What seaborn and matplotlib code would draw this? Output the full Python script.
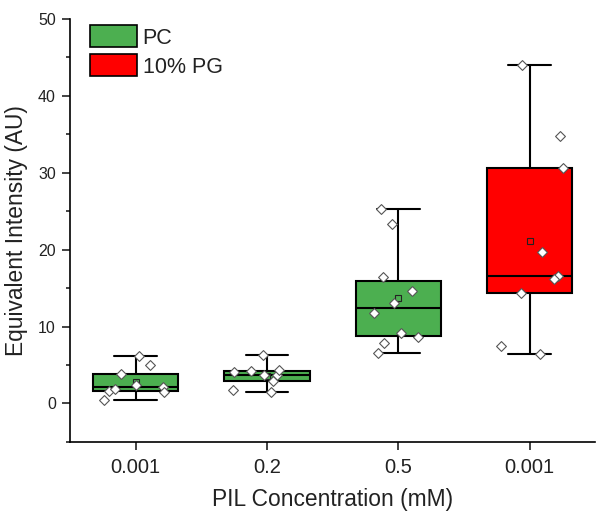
import numpy as np
import pandas as pd
import matplotlib
matplotlib.use("Agg")
import matplotlib.pyplot as plt
import seaborn as sns
from matplotlib.patches import Patch
from matplotlib.ticker import MultipleLocator

# data
group_ids = ["g1", "g2", "g3", "g4"]
tick_labels = ["0.001", "0.2", "0.5", "0.001"]
lipids = ["PC", "PC", "PC", "10% PG"]
vals_g1 = [6.2, 5.0, 3.8, 2.35, 2.1, 1.45, 1.6, 1.85, 0.5]
vals_g2 = [6.26, 4.1, 3.65, 3.75, 4.2, 4.3, 2.9, 1.8, 1.5]
vals_g3 = [25.25, 23.3, 16.4, 14.6, 13.1, 11.7, 9.2, 8.65, 7.8, 6.5]
vals_g4 = [44.07, 34.8, 30.6, 19.65, 16.6, 16.2, 14.4, 7.43, 6.4]

green = "#4CAF50"
red = "#FF0000"
palette = {"PC": green, "10% PG": red}

rows = []
for gid, lip, vals in zip(group_ids, lipids, [vals_g1, vals_g2, vals_g3, vals_g4]):
    for v in vals:
        rows.append({"group": gid, "lipid": lip, "value": v})
df = pd.DataFrame(rows)

sns.set_style("ticks")
plt.rcParams["font.family"] = ["Liberation Sans", "DejaVu Sans"]
plt.rcParams["text.color"] = "#222222"
plt.rcParams["axes.labelcolor"] = "#222222"
plt.rcParams["xtick.color"] = "#222222"
plt.rcParams["ytick.color"] = "#222222"

fig = plt.figure(figsize=(5.97, 5.15), dpi=100)
ax = fig.add_axes([0.117, 0.142, 0.88, 0.821])

sns.boxplot(data=df, x="group", y="value", hue="lipid", palette=palette,
            order=group_ids, hue_order=["PC", "10% PG"], dodge=False,
            saturation=1, width=0.65, whis=(0, 100), showfliers=False,
            showmeans=True, linecolor="black", linewidth=1.5, legend=False,
            ax=ax,
            meanprops=dict(marker="s", markerfacecolor="none",
                           markeredgecolor="#222222", markersize=5,
                           markeredgewidth=0.8))

np.random.seed(3)
sns.stripplot(data=df, x="group", y="value", order=group_ids, color="white",
              marker="D", size=5, edgecolor="#555555", linewidth=0.8,
              jitter=0.27, ax=ax, zorder=5)

ax.set_xlim(-0.5, 3.5)
ax.set_ylim(-5, 50)
ax.yaxis.set_major_locator(MultipleLocator(10))
ax.yaxis.set_minor_locator(MultipleLocator(5))
ax.set_xticks(range(4))
ax.set_xticklabels(tick_labels)
ax.tick_params(axis="both", direction="out", width=1.2, length=5.5)
ax.tick_params(axis="x", labelsize=14.5, pad=6)
ax.tick_params(axis="y", labelsize=11.5, pad=4.5)
ax.tick_params(axis="y", which="minor", width=1.2, length=3)
ax.set_xlabel("PIL Concentration (mM)", fontsize=16.4, labelpad=8)
ax.set_ylabel("Equivalent Intensity (AU)", fontsize=16.4, labelpad=7)
for s in ["top", "right"]:
    ax.spines[s].set_visible(False)
for s in ["left", "bottom"]:
    ax.spines[s].set_linewidth(1.2)
    ax.spines[s].set_color("black")

handles = [Patch(facecolor=green, edgecolor="black", linewidth=1.2, label="PC"),
           Patch(facecolor=red, edgecolor="black", linewidth=1.2, label="10% PG")]
ax.legend(handles=handles, loc="upper left", bbox_to_anchor=(0.038, 0.985),
          frameon=False, fontsize=15.5, handlelength=2.2, handleheight=1.2,
          handletextpad=0.25, labelspacing=0.26, borderpad=0, borderaxespad=0)

fig.savefig("out.png", dpi=100)
